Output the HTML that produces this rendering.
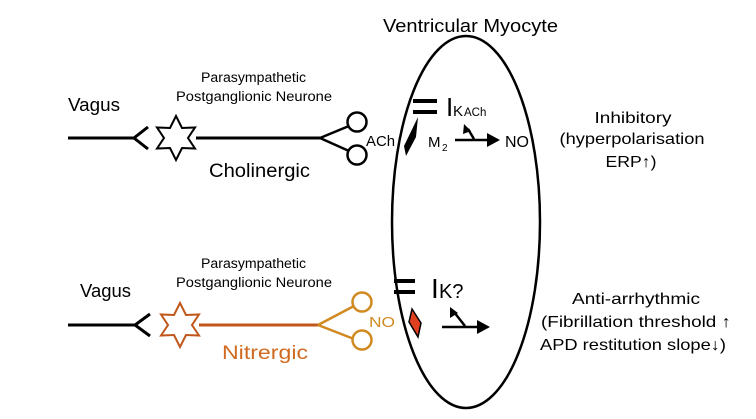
<!DOCTYPE html>
<html><head><style>body{margin:0;background:#fff}svg{display:block}text{font-family:"Liberation Sans",sans-serif}</style></head>
<body>
<svg width="756" height="419" viewBox="0 0 756 419" xmlns="http://www.w3.org/2000/svg">
<ellipse cx="466" cy="222" rx="74" ry="186" fill="none" stroke="#000" stroke-width="2.5"/>
<text x="383" y="32" font-size="18" textLength="175" lengthAdjust="spacingAndGlyphs">Ventricular Myocyte</text>
<!-- top row -->
<text x="68" y="111" font-size="18" textLength="52" lengthAdjust="spacingAndGlyphs">Vagus</text>
<text x="201" y="82" font-size="13.5" textLength="105" lengthAdjust="spacingAndGlyphs">Parasympathetic</text>
<text x="176" y="101" font-size="13.5" textLength="156" lengthAdjust="spacingAndGlyphs">Postganglionic Neurone</text>
<line x1="68" y1="138" x2="134" y2="138" stroke="#000" stroke-width="3"/>
<polyline points="148,127 134,138 148,149" fill="none" stroke="#000" stroke-width="3"/>
<polygon points="176,116 182,128 195,127.5 188,138 195,148.5 182,148 176,160 170,148 157,148.5 164,138 157,127.5 170,128" fill="#fff" stroke="#000" stroke-width="2"/>
<line x1="196" y1="138" x2="320" y2="138" stroke="#000" stroke-width="3"/>
<line x1="320" y1="138" x2="349" y2="126" stroke="#000" stroke-width="2.5"/>
<line x1="320" y1="138" x2="349" y2="151" stroke="#000" stroke-width="2.5"/>
<circle cx="357" cy="122" r="9.5" fill="#fff" stroke="#000" stroke-width="2.5"/>
<circle cx="357" cy="155" r="9.5" fill="#fff" stroke="#000" stroke-width="2.5"/>
<text x="366" y="146" font-size="15" textLength="29" lengthAdjust="spacingAndGlyphs">ACh</text>
<text x="209" y="177" font-size="19" textLength="101" lengthAdjust="spacingAndGlyphs">Cholinergic</text>
<line x1="413" y1="101" x2="437" y2="101" stroke="#000" stroke-width="4"/>
<line x1="413" y1="112" x2="437" y2="112" stroke="#000" stroke-width="4"/>
<text x="446" y="116" font-size="26">I</text>
<text x="453" y="116" font-size="15">K</text>
<text x="464" y="116" font-size="11.5">ACh</text>
<polygon points="418,117 416,137 406,156 404,146" fill="#000"/>
<text x="428" y="147" font-size="15">M</text>
<text x="442" y="151" font-size="10">2</text>
<line x1="455" y1="140" x2="490" y2="140" stroke="#000" stroke-width="2.5"/>
<polygon points="500,140 487,133 487,147" fill="#000"/>
<line x1="474" y1="139" x2="468" y2="129" stroke="#000" stroke-width="2.5"/>
<polygon points="464,124 463,134 471,131" fill="#000"/>
<text x="505" y="147" font-size="16">NO</text>
<text x="633" y="123" font-size="16" text-anchor="middle" textLength="77" lengthAdjust="spacingAndGlyphs">Inhibitory</text>
<text x="632" y="144" font-size="16" text-anchor="middle" textLength="145" lengthAdjust="spacingAndGlyphs">(hyperpolarisation</text>
<text x="631" y="167" font-size="16" text-anchor="middle" textLength="51" lengthAdjust="spacingAndGlyphs">ERP↑)</text>
<!-- bottom row -->
<text x="80" y="297" font-size="18" textLength="51" lengthAdjust="spacingAndGlyphs">Vagus</text>
<text x="201" y="268" font-size="13.5" textLength="105" lengthAdjust="spacingAndGlyphs">Parasympathetic</text>
<text x="176" y="287" font-size="13.5" textLength="156" lengthAdjust="spacingAndGlyphs">Postganglionic Neurone</text>
<line x1="68" y1="325" x2="135" y2="325" stroke="#000" stroke-width="3"/>
<polyline points="150,314 135,325 150,336" fill="none" stroke="#000" stroke-width="3"/>
<polygon points="180,303 186,315 199,314.5 192,325 199,335.5 186,335 180,347 174,335 161,335.5 168,325 161,314.5 174,315" fill="#fff" stroke="#c0561a" stroke-width="2"/>
<line x1="199" y1="325" x2="318" y2="325" stroke="#c0561a" stroke-width="3"/>
<line x1="318" y1="325" x2="354" y2="306" stroke="#d08a20" stroke-width="2.5"/>
<line x1="318" y1="325" x2="354" y2="339" stroke="#d08a20" stroke-width="2.5"/>
<circle cx="362" cy="302" r="9.5" fill="#fff" stroke="#d08a20" stroke-width="2.5"/>
<circle cx="362" cy="340" r="9.5" fill="#fff" stroke="#d08a20" stroke-width="2.5"/>
<text x="369" y="327" font-size="15" fill="#d08a20" textLength="26" lengthAdjust="spacingAndGlyphs">NO</text>
<text x="222" y="359" font-size="19" fill="#d06a20" textLength="86" lengthAdjust="spacingAndGlyphs">Nitrergic</text>
<line x1="394" y1="281" x2="415" y2="281" stroke="#000" stroke-width="4"/>
<line x1="394" y1="292" x2="415" y2="292" stroke="#000" stroke-width="4"/>
<text x="431" y="298" font-size="28">I</text>
<text x="439" y="298" font-size="20">K?</text>
<polygon points="412,309 421,323 418,337 409,322" fill="#e04020" stroke="#000" stroke-width="1.5"/>
<line x1="442" y1="327" x2="480" y2="327" stroke="#000" stroke-width="2.5"/>
<polygon points="490,327 477,320 477,334" fill="#000"/>
<line x1="465" y1="326" x2="454" y2="312" stroke="#000" stroke-width="2.5"/>
<polygon points="450,307 450,318 458,313" fill="#000"/>
<text x="636" y="304" font-size="16" text-anchor="middle" textLength="128" lengthAdjust="spacingAndGlyphs">Anti-arrhythmic</text>
<text x="636" y="327" font-size="16" text-anchor="middle" textLength="190" lengthAdjust="spacingAndGlyphs">(Fibrillation threshold ↑</text>
<text x="633" y="350" font-size="16" text-anchor="middle" textLength="186" lengthAdjust="spacingAndGlyphs">APD restitution slope↓)</text>
</svg>
</body></html>
